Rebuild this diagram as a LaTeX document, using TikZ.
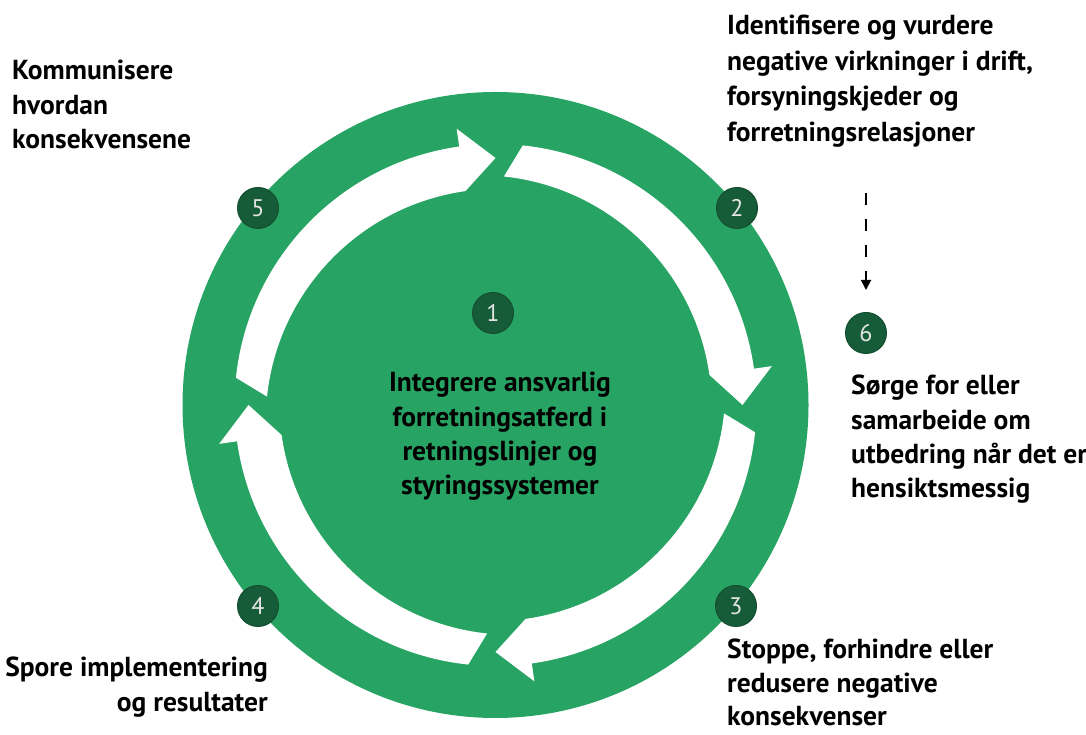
\documentclass[tikz,border=0pt]{standalone}
\usepackage{fontspec}
\setmainfont{PT Sans}
\usetikzlibrary{positioning}
\usetikzlibrary{arrows.meta}

\definecolor{ringgreen}{HTML}{27A463}
\definecolor{stepgreen}{HTML}{175C38}

\tikzset{
  stepnum/.style={circle, fill=stepgreen, draw=stepgreen!85!black, line width=1pt,
    minimum size=41pt, inner sep=0pt, text=white!90!black,
    font=\fontsize{24}{24}\selectfont},
  steptext/.style={inner sep=0pt, font=\bfseries\fontsize{27.5}{34.3}\selectfont},
  hintline/.style={line width=1.8pt, dash pattern=on 12pt off 14pt,
    -{Triangle[length=10pt,width=10pt]}},
}

% one white arrow of the ring: tail angle, tip angle
\newcommand{\ringarrow}[2]{%
  \fill[white] (#1:261) arc[start angle=#1, end angle={#2+8}, radius=261]
    -- ({#2+8}:279) -- (#2:247) -- ({#2+8}:216)
    arc[start angle={#2+8}, end angle=#1, radius=232] -- cycle;}

\begin{document}
\begin{tikzpicture}[x=1pt,y=1pt]
\useasboundingbox (0,0) rectangle (1086,735);

\fill[ringgreen] (495.5,330) circle (313);
\begin{scope}[shift={(495.5,330)}]
\ringarrow{174}{90}
\ringarrow{84}{0}
\ringarrow{-6}{-90}
\ringarrow{-96}{-180}
\end{scope}

\node[stepnum] (n1) at (493,422) {1};
\node[stepnum] (n2) at (737,527) {2};
\node[stepnum] (n3) at (736,129) {3};
\node[stepnum] (n4) at (258,129) {4};
\node[stepnum] (n5) at (258,527) {5};
\node[stepnum] (n6) at (866,402) {6};

\node[steptext, align=center, anchor=north] (t1) at (500,363)
  {Integrere ansvarlig\\forretningsatferd i\\retningslinjer og\\styringssystemer};
\node[steptext, align=left, anchor=north west,
  font=\bfseries\fontsize{27.5}{35.6}\selectfont] (t2) at (727,720)
  {Identifisere og vurdere\\negative virkninger i drift,\\forsyningskjeder og\\forretningsrelasjoner};
\node[steptext, align=left, anchor=north west,
  font=\bfseries\fontsize{27.5}{33.5}\selectfont] (t3) at (727,96)
  {Stoppe, forhindre eller\\redusere negative\\konsekvenser};
\node[steptext, align=right, anchor=north east] (t4) at (268,78)
  {Spore implementering\\og resultater};
\node[steptext, align=left, anchor=north west] (t5) at (12,675)
  {Kommunisere\\hvordan\\konsekvensene};
\node[steptext, align=left, anchor=north west] (t6) at (851,360)
  {Sørge for eller\\samarbeide om\\utbedring når det er\\hensiktsmessig};

\coordinate (hinttop) at (866,542);
\draw[hintline, shorten >=22pt] (hinttop) -- (n6.north);
\end{tikzpicture}
\end{document}
